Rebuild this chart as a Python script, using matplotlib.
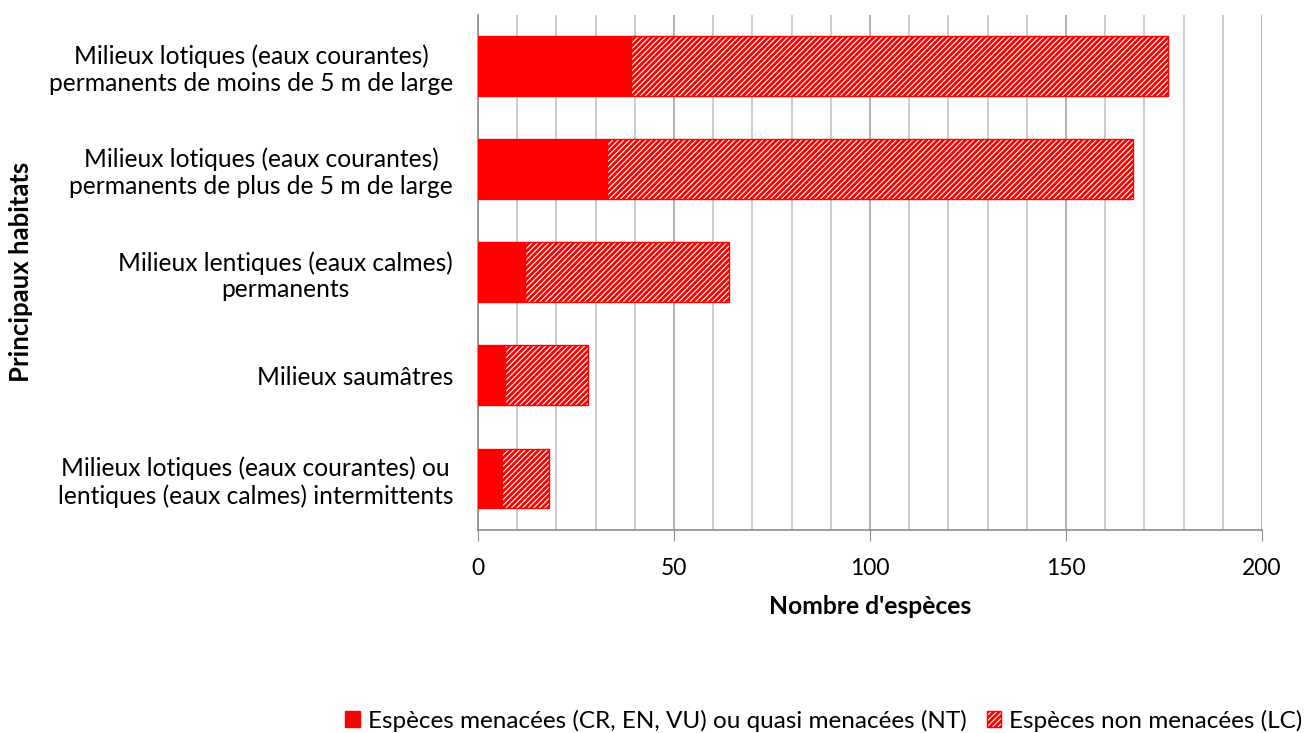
import matplotlib.pyplot as plt
import numpy as np

plt.rcParams['font.family'] = ['Lato', 'DejaVu Sans']
plt.rcParams['hatch.linewidth'] = 2.0

# habitats, du haut vers le bas
habitats = [
    "Milieux lotiques (eaux courantes)\npermanents de moins de 5 m de large",
    "Milieux lotiques (eaux courantes)\npermanents de plus de 5 m de large",
    "Milieux lentiques (eaux calmes)\npermanents",
    "Milieux saumâtres",
    "Milieux lotiques (eaux courantes) ou\nlentiques (eaux calmes) intermittents",
]
menacees = [39, 33, 12, 7, 6]
non_menacees = [137, 134, 52, 21, 12]

rouge = '#ff0000'
pos = np.arange(len(habitats))

fig = plt.figure(figsize=(13.1, 7.33), dpi=100)
ax = fig.add_axes([0.3649, 0.2769, 0.5985, 0.7033])

ax.barh(pos, menacees, height=0.58, color=rouge, edgecolor=rouge, linewidth=1,
        label='Espèces menacées (CR, EN, VU) ou quasi menacées (NT)', zorder=3)
ax.barh(pos, non_menacees, left=menacees, height=0.58, color='white', edgecolor=rouge,
        hatch='//////', linewidth=1, label='Espèces non menacées (LC)', zorder=3)

ax.set_ylim(len(habitats) - 0.5, -0.5)
ax.set_xlim(0, 200)
ax.set_yticks(pos)
ax.set_yticklabels(habitats, fontsize=17.7, multialignment='center')
ax.tick_params(axis='y', length=0, pad=18)
ax.set_xticks(range(0, 201, 50))
ax.set_xticks(range(0, 201, 10), minor=True)
ax.tick_params(axis='x', which='major', length=8, color='#8c8c8c', labelsize=16.5, pad=12)
ax.tick_params(axis='x', which='minor', length=0)
ax.grid(axis='x', which='minor', color='#c4c4c4', linewidth=1.2, zorder=0)
ax.grid(axis='x', which='major', color='#a6a6a6', linewidth=1.2, zorder=0)

for s in ['top', 'right']:
    ax.spines[s].set_visible(False)
ax.spines['left'].set_color('#8c8c8c')
ax.spines['bottom'].set_color('#8c8c8c')
ax.spines['left'].set_linewidth(1.2)
ax.spines['bottom'].set_linewidth(1.2)

ax.set_xlabel("Nombre d'espèces", fontsize=17.7, fontweight='bold', labelpad=12)
fig.text(0.016, 0.629, 'Principaux habitats', rotation=90, fontsize=18.5,
         fontweight='bold', ha='center', va='center')

fig.legend(loc='center', bbox_to_anchor=(0.629, 0.017), ncol=2, frameon=False,
           fontsize=17.5, handlelength=0.58, handleheight=0.62, handletextpad=0.33,
           columnspacing=0.86, borderaxespad=0, borderpad=0)

fig.savefig('out.png', dpi=100)
